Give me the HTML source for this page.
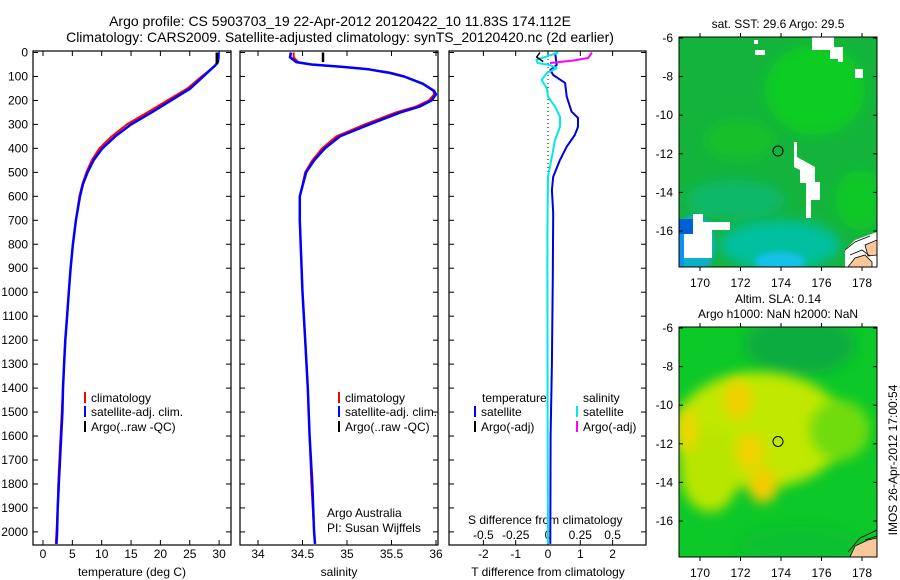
<!DOCTYPE html>
<html><head><meta charset="utf-8"><style>
html,body{margin:0;padding:0;background:#fff;}
svg{display:block;font-family:"Liberation Sans",sans-serif;}
text{fill:#000;}
</style></head><body>
<svg id="chart" width="900" height="580" viewBox="0 0 900 580">
<defs>
<filter id="blur4" x="-50%" y="-50%" width="200%" height="200%"><feGaussianBlur stdDeviation="6"/></filter>
<filter id="blur2" x="-50%" y="-50%" width="200%" height="200%"><feGaussianBlur stdDeviation="3"/></filter>
<clipPath id="clipMap1"><rect x="679" y="37" width="198" height="230"/></clipPath>
<clipPath id="clipMap2"><rect x="679" y="327" width="198" height="230"/></clipPath>
</defs>
<text x="340" y="26" font-size="14" text-anchor="middle">Argo profile: CS 5903703_19 22-Apr-2012 20120422_10 11.83S 174.112E</text>
<text x="340" y="42" font-size="14" text-anchor="middle">Climatology: CARS2009. Satellite-adjusted climatology: synTS_20120420.nc (2d earlier)</text>

<!-- Map 1: SST -->
<g clip-path="url(#clipMap1)">
<rect x="679" y="37" width="198" height="230" fill="#14b43c"/>
<ellipse cx="815" cy="90" rx="50" ry="45" fill="#10cc24" filter="url(#blur4)"/>
<ellipse cx="740" cy="140" rx="35" ry="20" fill="#12c02c" filter="url(#blur4)"/>
<ellipse cx="860" cy="200" rx="25" ry="30" fill="#10c828" filter="url(#blur4)"/>
<ellipse cx="735" cy="200" rx="50" ry="20" fill="#0cb868" filter="url(#blur4)"/>
<ellipse cx="780" cy="245" rx="60" ry="25" fill="#06c0a0" filter="url(#blur4)"/>
<ellipse cx="780" cy="262" rx="25" ry="10" fill="#18c0e8" filter="url(#blur2)"/>
<ellipse cx="695" cy="245" rx="20" ry="30" fill="#10b0c8" filter="url(#blur2)"/>
<rect x="679" y="219" width="14" height="15" fill="#0060d8"/>
<rect x="679" y="234" width="5" height="33" fill="#1090f0"/>
<path d="M693 214 L703 214 L703 222 L730 222 L730 230 L712 230 L712 258 L684 258 L684 234 L693 234 Z" fill="#fff"/>
<rect x="812" y="37" width="22" height="13" fill="#fff"/>
<rect x="830" y="47" width="13" height="12" fill="#fff"/>
<rect x="838" y="57" width="5" height="5" fill="#fff"/>
<rect x="754" y="40" width="4" height="4" fill="#fff"/>
<rect x="755" y="50" width="10" height="5" fill="#fff"/>
<rect x="855" y="69" width="8" height="9" fill="#fff"/>
<path d="M794 142 L797 142 L797 157 L815 167 L815 182 L820 182 L820 200 L811 200 L811 218 L806 218 L806 183 L800 183 L800 170 L794 167 Z" fill="#fff"/>
<path d="M845 267 L845 250 L855 240 L877 232 L877 267 Z" fill="#fff"/>
<path d="M865 245 L877 240 L877 255 L868 256 Z" fill="#f8c898" stroke="#000" stroke-width="0.8"/>
<path d="M848 267 L855 258 L865 255 L872 262 L872 267 Z" fill="#f8c898" stroke="#000" stroke-width="0.8"/>
<path d="M845 250 L855 242 L870 236 M850 255 L862 250 L870 256" fill="none" stroke="#000" stroke-width="0.8"/>
<circle cx="778" cy="151" r="5" fill="none" stroke="#000" stroke-width="1"/>
</g>
<rect x="679" y="37" width="198" height="230" fill="none" stroke="#000" stroke-width="1"/>
<text x="778" y="28" font-size="12" text-anchor="middle">sat. SST: 29.6 Argo: 29.5</text>

<!-- Map 2: SLA -->
<g clip-path="url(#clipMap2)">
<rect x="679" y="327" width="198" height="230" fill="#0cc828"/>
<ellipse cx="800" cy="345" rx="55" ry="30" fill="#08ac40" filter="url(#blur4)"/>
<ellipse cx="760" cy="430" rx="85" ry="58" fill="#c0e800" filter="url(#blur4)"/>
<ellipse cx="840" cy="430" rx="30" ry="30" fill="#70dc10" filter="url(#blur4)"/>
<ellipse cx="710" cy="470" rx="30" ry="42" fill="#b8e600" filter="url(#blur4)"/>
<ellipse cx="738" cy="400" rx="14" ry="20" fill="#f2d000" filter="url(#blur4)"/>
<ellipse cx="750" cy="452" rx="14" ry="18" fill="#f2d200" filter="url(#blur4)"/>
<ellipse cx="763" cy="485" rx="14" ry="18" fill="#f4cc00" filter="url(#blur4)"/>
<ellipse cx="688" cy="430" rx="9" ry="22" fill="#eed400" filter="url(#blur4)"/>
<ellipse cx="800" cy="545" rx="60" ry="18" fill="#10c030" filter="url(#blur4)"/>
<path d="M850 557 L855 546 L868 540 L877 538 L877 557 Z" fill="#f8c898" stroke="#000" stroke-width="0.8"/>
<path d="M865 540 L877 536 M848 552 L860 538 L877 530" fill="none" stroke="#000" stroke-width="0.8"/>
<circle cx="778" cy="441.5" r="5" fill="none" stroke="#000" stroke-width="1"/>
</g>
<rect x="679" y="327" width="198" height="230" fill="none" stroke="#000" stroke-width="1"/>
<text x="778" y="303" font-size="12" text-anchor="middle">Altim. SLA: 0.14</text>
<text x="778" y="318" font-size="12" text-anchor="middle">Argo h1000: NaN h2000: NaN</text>
<text transform="translate(897,460) rotate(-90)" font-size="12" text-anchor="middle">IMOS 26-Apr-2012 17:00:54</text>

<g id="plots"></g>
</svg>
<script>
// ---- data ----
const tDepth = [0,20,40,55,70,100,150,200,250,300,350,400,450,500,550,600,700,800,900,1000,1100,1200,1300,1400,1500,1600,1700,1800,1900,2000,2050];
const tempClim = [29.9,29.9,29.8,29.3,28.6,27.0,24.6,21.2,17.8,14.3,11.7,9.6,8.3,7.4,6.7,6.2,5.6,5.1,4.7,4.4,4.1,3.8,3.6,3.4,3.2,3.0,2.8,2.6,2.5,2.3,2.2];
const tempSat = [29.9,29.9,29.8,29.3,28.6,27.3,25.1,21.8,18.5,15.0,12.3,10.1,8.6,7.6,6.8,6.3,5.6,5.1,4.7,4.4,4.1,3.8,3.6,3.4,3.3,3.1,2.9,2.7,2.5,2.4,2.3];
const argoTDepth = [0,50];
const argoTemp = [29.6,29.6];
const sDepth = [0,20,40,50,60,70,85,100,130,160,175,200,225,250,300,350,400,450,500,600,700,800,1000,1200,1400,1600,1800,2000,2050];
const salClim = [34.40,34.40,34.45,34.60,34.95,35.25,35.50,35.65,35.85,35.97,35.98,35.92,35.78,35.55,35.20,34.88,34.72,34.61,34.53,34.47,34.47,34.48,34.50,34.53,34.56,34.58,34.60,34.63,34.64];
const salSat = [34.37,34.36,34.43,34.60,34.95,35.24,35.48,35.64,35.85,35.98,36.00,35.95,35.82,35.60,35.25,34.92,34.75,34.63,34.54,34.47,34.47,34.48,34.50,34.53,34.56,34.58,34.61,34.63,34.64];
const argoSDepth = [0,40];
const argoSal = [34.73,34.73];
const dTDepth = [0,52,73,94,127,184,247,273,310,344,393,448,518,574,670,935,1300,1600,2050];
const dTSat = [0.22,0.27,0.07,0.16,0.53,0.58,0.73,0.93,0.93,0.83,0.58,0.37,0.16,0.12,0.16,0.15,0.12,0.08,0.07];
const dSDepth = [0,31,44,52,65,86,115,148,184,226,268,310,365,435,518,741,935,1500,2050];
const dSSat = [0.08,-0.09,-0.08,0.015,0.067,-0.01,-0.05,-0.01,0,0.054,0.093,0.093,0.054,0.03,0,-0.005,-0.005,-0.003,0];
const argoDTDepth = [0,19,38];
const argoDT = [-0.25,-0.35,-0.15];
const argoDSDepth = [0,23,34,44];
const argoDS = [0.34,0.31,0.19,0.015];
const depthTicks = [0,100,200,300,400,500,600,700,800,900,1000,1100,1200,1300,1400,1500,1600,1700,1800,1900,2000];
const tempTicks = [0,5,10,15,20,25,30];
const salTicks = [34,34.5,35,35.5,36];
const salTickLabels = ["34","34.5","35","35.5","36"];
const dTTicks = [-2,-1,0,1,2];
const dSTicks = [-0.5,-0.25,0,0.25,0.5];
const dSTickLabels = ["-0.5","-0.25","0","0.25","0.5"];
const latTicks = [-6,-8,-10,-12,-14,-16];
const lonTicks = [170,172,174,176,178];

// ---- axes ----
const NS='http://www.w3.org/2000/svg';
const root=document.getElementById('plots');
const Y0=52.5, YK=0.2397;
const yD = d => Y0 + d*YK;
const xT = v => 43 + v*5.87;
const xS = v => 258 + (v-34)*89;
const xDT = v => 548 + v*32.3;
const xDS = v => 548 + v*129.2;
const TOP=51, BOT=545;
function mk(tag, attrs, parent){const e=document.createElementNS(NS,tag);for(const k in attrs)e.setAttribute(k,attrs[k]);(parent||root).appendChild(e);return e;}
function txt(x,y,s,anchor,parent){const t=mk('text',{x:x,y:y,'font-size':12,'text-anchor':anchor||'middle'},parent);t.textContent=s;return t;}

const panels=[{x:33,w:198,name:'temperature-panel'},{x:240,w:198,name:'salinity-panel'},{x:449,w:197,name:'difference-panel'}];
panels.forEach(p=>{
  const r=mk('rect',{x:p.x,y:TOP,width:p.w,height:BOT-TOP,fill:'none',stroke:'#000','stroke-width':1.2});
  
  
  depthTicks.forEach(d=>{
    const t1=mk('line',{x1:p.x,x2:p.x+5,y1:yD(d),y2:yD(d),stroke:'#000'});
    
    
    const t2=mk('line',{x1:p.x+p.w-5,x2:p.x+p.w,y1:yD(d),y2:yD(d),stroke:'#000'});
    
    
  });
});
depthTicks.forEach(d=>{
  const t=txt(28,yD(d)+4,String(d),'end');
  
  
});
function xTicks(vals,labels,fx,y){
  vals.forEach((v,i)=>{
    const a=mk('line',{x1:fx(v),x2:fx(v),y1:TOP,y2:TOP+5,stroke:'#000'});
    
    
    const b=mk('line',{x1:fx(v),x2:fx(v),y1:BOT-5,y2:BOT,stroke:'#000'});
    
    
    if(labels){const t=txt(fx(v),y,labels[i]);
      
      }
  });
}
xTicks(tempTicks,tempTicks.map(String),xT,558);
xTicks(salTicks,salTickLabels,xS,558);
xTicks(dTTicks,dTTicks.map(String),xDT,558);
dSTicks.forEach((v,i)=>{const t=txt(xDS(v),539,dSTickLabels[i]);
  
  });

// map axes
const xLon = v => 700 + (v-170)*20.25;
[{top:37,name:'sst-map'},{top:327,name:'sla-map'}].forEach(m=>{
  const yLat = v => m.top + 1 + (-6 - v)*19.3;
  latTicks.forEach(v=>{
    const a=mk('line',{x1:679,x2:683,y1:yLat(v),y2:yLat(v),stroke:'#000'});
    
    
    const b=mk('line',{x1:873,x2:877,y1:yLat(v),y2:yLat(v),stroke:'#000'});
    
    
    const t=txt(673,yLat(v)+4,String(v),'end');
    
    
  });
  lonTicks.forEach(v=>{
    const a=mk('line',{x1:xLon(v),x2:xLon(v),y1:m.top-4,y2:m.top,stroke:'#000'});
    
    
    const b=mk('line',{x1:xLon(v),x2:xLon(v),y1:m.top+230,y2:m.top+234,stroke:'#000'});
    
    
    const t=txt(xLon(v),m.top+250,String(v));
    
    
  });
});

let t;
t=txt(132,576,'temperature (deg C)');
t=txt(339,576,'salinity');
t=txt(548,576,'T difference from climatology');
t=txt(468,524,'S difference from climatology','start');
t=txt(327,517,'Argo Australia','start');
t=txt(327,532,'PI: Susan Wijffels','start');

// zero dotted line
const zl=mk('line',{x1:548,x2:548,y1:TOP,y2:yD(520),stroke:'#000','stroke-dasharray':'1,3'});



function series(depths,vals,fx,color,width,name){
  const pts=depths.map((d,i)=>fx(vals[i]).toFixed(1)+','+yD(d).toFixed(1)).join(' ');
  const pl=mk('polyline',{points:pts,fill:'none',stroke:color,'stroke-width':width,'stroke-linejoin':'round'});
  
  
}
series(tDepth,tempClim,xT,'#ff0000',2,'temperature-climatology-line');
series(tDepth,tempSat,xT,'#0000ff',2.5,'temperature-satellite-line');
series(argoTDepth,argoTemp,xT,'#000',2.5,'temperature-argo-line');
series(sDepth,salClim,xS,'#ff0000',2,'salinity-climatology-line');
series(sDepth,salSat,xS,'#0000ff',2.5,'salinity-satellite-line');
series(argoSDepth,argoSal,xS,'#000',2.5,'salinity-argo-line');
series(dTDepth,dTSat,xDT,'#0000dd',2,'t-diff-satellite-line');
series(dSDepth,dSSat,xDS,'#00e8e8',2,'s-diff-satellite-line');
series(argoDTDepth,argoDT,xDT,'#000',1.5,'t-diff-argo-line');
series(argoDSDepth,argoDS,xDS,'#ff00ff',2,'s-diff-argo-line');

function legend(x,y,color,label,name){
  const b=mk('line',{x1:x,x2:x,y1:y-10,y2:y+1,stroke:color,'stroke-width':2});
  
  
  const tt=txt(x+6,y,label,'start');
  
  
}
legend(85,402,'#ff0000','climatology','legend-climatology');
legend(85,416,'#0000ff','satellite-adj. clim.','legend-satellite');
legend(85,431,'#000','Argo(..raw -QC)','legend-argo');
legend(339,402,'#ff0000','climatology','legend-climatology-sal');
legend(339,416,'#0000ff','satellite-adj. clim.','legend-satellite-sal');
legend(339,431,'#000','Argo(..raw -QC)','legend-argo-sal');
t=txt(482,402,'temperature','start');
t=txt(583,402,'salinity','start');
legend(475,416,'#0000ff','satellite','legend-t-satellite');
legend(475,431,'#000','Argo(-adj)','legend-t-argo');
legend(577,416,'#00e8e8','satellite','legend-s-satellite');
legend(577,431,'#ff00ff','Argo(-adj)','legend-s-argo');
</script>
</body></html>
